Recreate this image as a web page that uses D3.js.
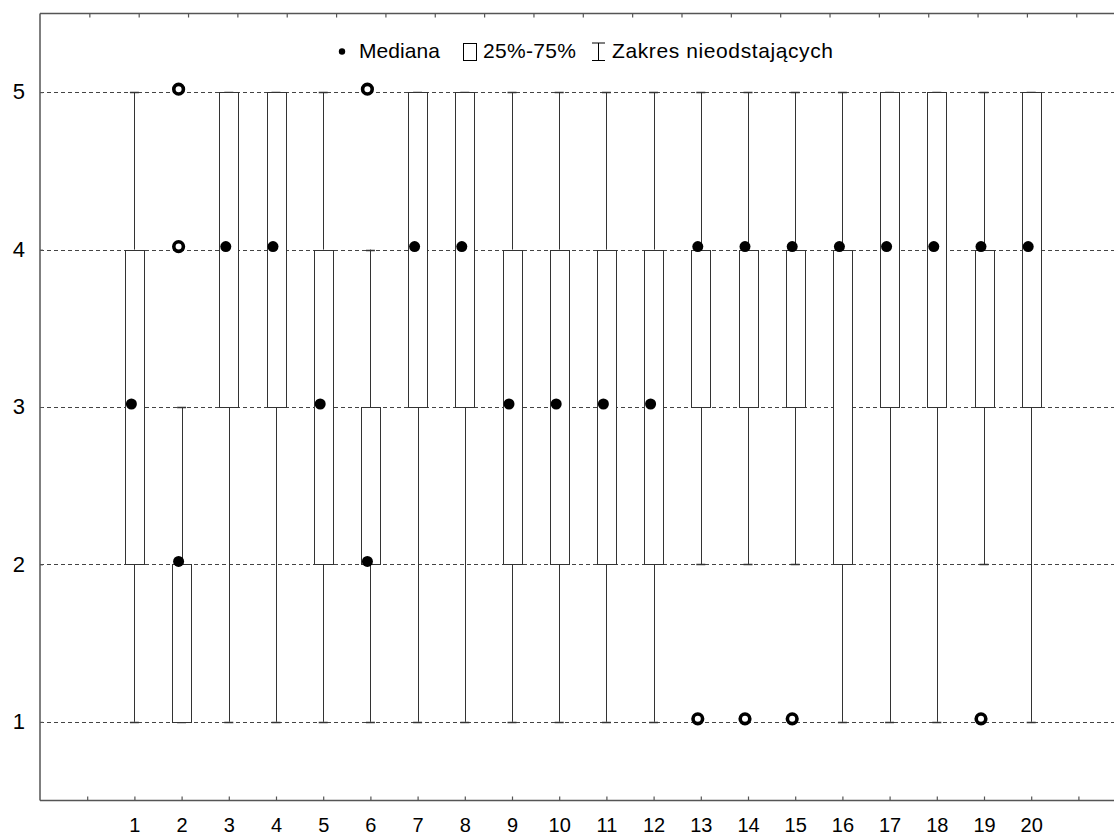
<!DOCTYPE html>
<html>
<head>
<meta charset="utf-8">
<script src="https://cdn.jsdelivr.net/npm/d3@7"></script>
<style>
  html, body { margin: 0; padding: 0; background: #fff; }
  svg { display: block; font-family: "Liberation Sans", Arial, sans-serif; }
</style>
</head>
<body>
<svg id="chart" width="1114" height="837"></svg>
<script>
// ---- data ----
const categories   = [1,2,3,4,5,6,7,8,9,10,11,12,13,14,15,16,17,18,19,20];
const whiskerLow   = [1,1,1,1,1,1,1,1,1,1,1,1,2,2,2,1,1,1,2,1];
const q1           = [2,1,3,3,2,2,3,3,2,2,2,2,3,3,3,2,3,3,3,3];
const median       = [3,2,4,4,3,2,4,4,3,3,3,3,4,4,4,4,4,4,4,4];
const q3           = [4,2,5,5,4,3,5,5,4,4,4,4,4,4,4,4,5,5,4,5];
const whiskerHigh  = [5,3,5,5,5,4,5,5,5,5,5,5,5,5,5,5,5,5,5,5];
const outlierCat   = [2,2,6,13,14,15,19];
const outlierVal   = [5,4,5,1,1,1,1];
const yTicks       = [1,2,3,4,5];
const legendLabels = ["Mediana", "25%-75%", "Zakres nieodstających"];

// ---- layout ----
const svg = d3.select("#chart");
const plotLeft = 40, plotTop = 13.5, plotBottom = 800.5, step = 47.2;
const x = d3.scaleLinear().domain([-1, 22]).range([plotLeft, plotLeft + 23 * step]);
const xTop = d3.scaleLinear().domain([0, 22]).range([plotLeft, plotLeft + 23 * step]);
const y = d3.scaleLinear().domain([0.5, 5.5]).range([plotBottom, plotTop]);
const ink = "#333";
const boxW = 19, capW = 9, off = -3;

// gridlines
svg.append("g").selectAll("line").data(yTicks).join("line")
  .attr("x1", plotLeft).attr("x2", 1114)
  .attr("y1", d => Math.round(y(d)) + 0.5).attr("y2", d => Math.round(y(d)) + 0.5)
  .attr("stroke", "#444").attr("stroke-width", 1).attr("stroke-dasharray", "4,3");

// frame
const frame = svg.append("g").attr("stroke", "#555").attr("stroke-width", 1.5).attr("fill", "none");
frame.append("line").attr("x1", plotLeft).attr("x2", 1114).attr("y1", plotTop).attr("y2", plotTop);
frame.append("line").attr("x1", plotLeft).attr("x2", 1114).attr("y1", plotBottom).attr("y2", plotBottom);
frame.append("line").attr("x1", plotLeft).attr("x2", plotLeft).attr("y1", plotTop).attr("y2", plotBottom);

// bottom axis (ticks inward, labels below)
const bottomAxis = d3.axisBottom(x).tickValues(d3.range(0, 22)).tickSize(-4)
  .tickFormat(d => categories.includes(d) ? d : "");
const gb = svg.append("g").attr("transform", `translate(0,${plotBottom})`).call(bottomAxis);
gb.select(".domain").remove();
gb.selectAll(".tick line").attr("stroke", "#555").attr("stroke-width", 1.2);
gb.selectAll(".tick text").attr("fill", "#000").attr("font-size", 20)
  .attr("font-family", "Liberation Sans, Arial, sans-serif").attr("y", 31.5).attr("dy", 0);

// top axis ticks
const topAxis = d3.axisTop(xTop).tickValues(d3.range(1, 23)).tickSize(-4).tickFormat("");
const gt = svg.append("g").attr("transform", `translate(0,${plotTop})`).call(topAxis);
gt.select(".domain").remove();
gt.selectAll(".tick line").attr("stroke", "#555").attr("stroke-width", 1.2);

// left axis
const leftAxis = d3.axisLeft(y).tickValues(yTicks).tickSize(-3).tickFormat(d3.format("d"));
const gl = svg.append("g").attr("transform", `translate(${plotLeft},0)`).call(leftAxis);
gl.select(".domain").remove();
gl.selectAll(".tick line").attr("stroke", "#555");
gl.selectAll(".tick text").attr("fill", "#000").attr("font-size", 22)
  .attr("font-family", "Liberation Sans, Arial, sans-serif").attr("x", -15).attr("dy", "0.3em");

// boxes
const data = categories.map((c, i) => ({c, lo: whiskerLow[i], q1: q1[i], med: median[i], q3: q3[i], hi: whiskerHigh[i]}));
const px = v => Math.round(v) + 0.5;
const gBox = svg.append("g");
const g = gBox.selectAll("g").data(data).join("g");
// whiskers
g.append("line").attr("x1", d => px(x(d.c))).attr("x2", d => px(x(d.c)))
  .attr("y1", d => y(d.hi)).attr("y2", d => y(d.q3)).attr("stroke", ink);
g.append("line").attr("x1", d => px(x(d.c))).attr("x2", d => px(x(d.c)))
  .attr("y1", d => y(d.q1)).attr("y2", d => y(d.lo)).attr("stroke", ink);
// caps
g.append("line").attr("x1", d => x(d.c) - capW / 2).attr("x2", d => x(d.c) + capW / 2)
  .attr("y1", d => px(y(d.hi))).attr("y2", d => px(y(d.hi))).attr("stroke", ink).attr("stroke-width", 1.5);
g.append("line").attr("x1", d => x(d.c) - capW / 2).attr("x2", d => x(d.c) + capW / 2)
  .attr("y1", d => px(y(d.lo))).attr("y2", d => px(y(d.lo))).attr("stroke", ink).attr("stroke-width", 1.5);
// box
g.append("rect")
  .attr("x", d => px(x(d.c) - boxW / 2)).attr("width", boxW)
  .attr("y", d => px(y(d.q3))).attr("height", d => Math.max(0, Math.round(y(d.q1)) - Math.round(y(d.q3))))
  .attr("fill", "#fff").attr("stroke", ink).attr("stroke-width", 1);
// median dots
g.append("circle").attr("cx", d => x(d.c) + off).attr("cy", d => y(d.med) + off)
  .attr("r", 5.5).attr("fill", "#000");

// outliers
svg.append("g").selectAll("circle").data(outlierCat.map((c, i) => ({c, v: outlierVal[i]}))).join("circle")
  .attr("cx", d => x(d.c) + off).attr("cy", d => y(d.v) + off)
  .attr("r", 4.8).attr("fill", "#fff").attr("stroke", "#000").attr("stroke-width", 3.6);

// legend
const lg = svg.append("g").attr("font-size", 21).attr("fill", "#000");
lg.append("circle").attr("cx", 342).attr("cy", 51.5).attr("r", 3.2).attr("fill", "#000");
lg.append("text").attr("x", 359).attr("y", 58).attr("textLength", 81).attr("lengthAdjust", "spacing").text(legendLabels[0]);
lg.append("rect").attr("x", 463.5).attr("y", 43.5).attr("width", 13).attr("height", 17)
  .attr("fill", "#fff").attr("stroke", "#000").attr("stroke-width", 1);
lg.append("text").attr("x", 483).attr("y", 58).attr("textLength", 93).attr("lengthAdjust", "spacing").text(legendLabels[1]);
const ib = lg.append("g").attr("stroke", "#000").attr("stroke-width", 1);
ib.append("line").attr("x1", 592).attr("x2", 605).attr("y1", 43).attr("y2", 43);
ib.append("line").attr("x1", 592).attr("x2", 605).attr("y1", 60.5).attr("y2", 60.5);
ib.append("line").attr("x1", 598.5).attr("x2", 598.5).attr("y1", 43).attr("y2", 60.5);
lg.append("text").attr("x", 612).attr("y", 58).attr("textLength", 221).attr("lengthAdjust", "spacing").text(legendLabels[2]);
</script>
</body>
</html>
